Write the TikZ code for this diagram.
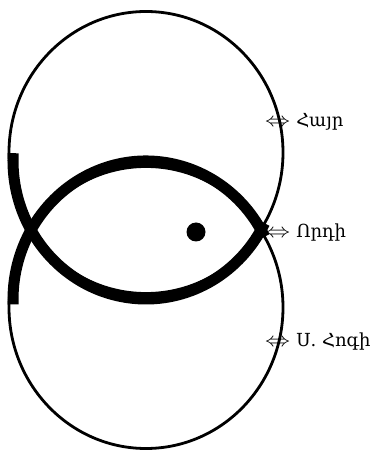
\documentclass[tikz,border=0pt]{standalone}
\usepackage{graphicx}
\usepackage{fontspec}
\newfontfamily\armfont{DejaVu Serif}
\newcommand{\dblarr}{\scalebox{1.45}[1.15]{$\Leftrightarrow$}\hspace{6pt}}
\begin{document}
\begin{tikzpicture}[x=1pt,y=1pt,
  thinring/.style={line width=2.8pt},
  band/.style={line width=11pt},
  lbl/.style={anchor=base west, inner sep=0pt, font=\armfont\fontsize{18}{21}\selectfont}]
\useasboundingbox (0,0) rectangle (373,450);
% thin rings
\draw[thinring] (146,297.5) ellipse [x radius=137, y radius=141];
\draw[thinring] (146,142.5) ellipse [x radius=137, y radius=141];
% thick bands
\draw[band] ([shift={(177:133 and 138.6)}]146,289.6) arc [start angle=177, end angle=333, x radius=133, y radius=138.6];
\draw[band] ([shift={(27:133 and 138.6)}]146,150.4) arc [start angle=27, end angle=182, x radius=133, y radius=138.6];
% dot
\node[circle, fill=black, inner sep=0pt, minimum size=19pt] (dot) at (196,218) {};
% labels
\node[lbl] (hayr) at (265,323) {\dblarr Հայր};
\node[lbl] (vordi) at (265,212) {\dblarr Որդի};
\node[lbl] (hogi) at (265,103) {\dblarr Ս. Հոգի};
\end{tikzpicture}
\end{document}
